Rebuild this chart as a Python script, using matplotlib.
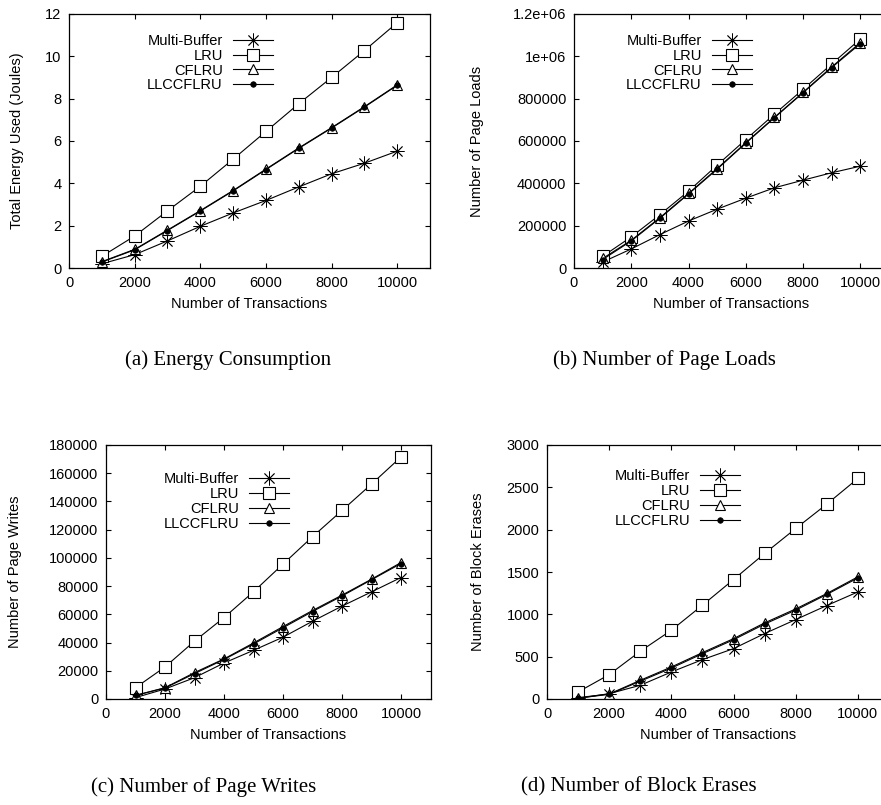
import numpy as np
import matplotlib
matplotlib.use("Agg")
import matplotlib.pyplot as plt

plt.rcParams['font.family'] = ['Liberation Sans', 'DejaVu Sans']
plt.rcParams['font.size'] = 10.5

# x values shared by all four panels
transactions = [1000, 2000, 3000, 4000, 5000, 6000, 7000, 8000, 9000, 10000]
series_names = ['Multi-Buffer', 'LRU', 'CFLRU', 'LLCCFLRU']

# (a) energy in joules
energy_multibuffer = [0.2, 0.63, 1.28, 1.97, 2.6, 3.19, 3.83, 4.45, 4.95, 5.52]
energy_lru = [0.55, 1.51, 2.7, 3.86, 5.14, 6.45, 7.76, 9.0, 10.27, 11.59]
energy_cflru = [0.3, 0.88, 1.79, 2.71, 3.66, 4.67, 5.67, 6.63, 7.62, 8.65]
energy_llccflru = [0.28, 0.86, 1.77, 2.69, 3.64, 4.65, 5.65, 6.61, 7.6, 8.63]

# (b) page loads
loads_multibuffer = [28000, 90000, 158000, 222000, 278000, 330000, 379000, 415000, 450000, 481000]
loads_lru = [55000, 147000, 252000, 363000, 486000, 607000, 727000, 844000, 964000, 1082000]
loads_cflru = [45000, 131000, 238000, 352000, 470000, 592000, 712000, 830000, 950000, 1065000]
loads_llccflru = [40000, 128000, 235000, 350000, 467000, 590000, 710000, 828000, 947000, 1060000]

# (c) page writes
writes_multibuffer = [1000, 7100, 15100, 25500, 34500, 43800, 55100, 65800, 75900, 86100]
writes_lru = [8000, 22700, 41000, 57700, 76000, 95600, 115000, 133600, 152300, 171500]
writes_cflru = [2600, 8000, 18700, 28400, 39700, 51300, 62700, 73600, 84900, 96700]
writes_llccflru = [2500, 7800, 18000, 28000, 39000, 50500, 62000, 73000, 84500, 96000]

# (d) block erases
erases_multibuffer = [8, 63, 162, 319, 465, 595, 773, 938, 1104, 1265]
erases_lru = [83, 288, 564, 812, 1108, 1411, 1719, 2014, 2302, 2605]
erases_cflru = [16, 59, 221, 378, 548, 713, 899, 1064, 1246, 1443]
erases_llccflru = [10, 55, 210, 365, 535, 700, 885, 1050, 1235, 1430]

x_ticks = [0, 2000, 4000, 6000, 8000, 10000]
loads_tick_labels = ['0', '200000', '400000', '600000', '800000', '1e+06', '1.2e+06']

panels = [
    dict(data=[energy_multibuffer, energy_lru, energy_cflru, energy_llccflru],
         ylabel='Total Energy Used (Joules)', caption='(a) Energy Consumption',
         yticks=np.arange(0, 13, 2), yticklabels=None, ylim=12,
         rect=[69, 14, 430, 268], ylabel_x=-0.144, leg_y=0.922),
    dict(data=[loads_multibuffer, loads_lru, loads_cflru, loads_llccflru],
         ylabel='Number of Page Loads', caption='(b) Number of Page Loads',
         yticks=np.arange(0, 1.2e6 + 1, 2e5), yticklabels=loads_tick_labels, ylim=1.2e6,
         rect=[574, 14, 889, 268], ylabel_x=-0.308, leg_y=0.922),
    dict(data=[writes_multibuffer, writes_lru, writes_cflru, writes_llccflru],
         ylabel='Number of Page Writes', caption='(c) Number of Page Writes',
         yticks=np.arange(0, 180001, 20000), yticklabels=None, ylim=180000,
         rect=[106, 445, 430.5, 699], ylabel_x=-0.28, leg_y=0.893),
    dict(data=[erases_multibuffer, erases_lru, erases_cflru, erases_llccflru],
         ylabel='Number of Block Erases', caption='(d) Number of Block Erases',
         yticks=np.arange(0, 3001, 500), yticklabels=None, ylim=3000,
         rect=[547, 445, 889, 699], ylabel_x=-0.202, leg_y=0.905),
]

styles = [
    dict(marker=(8, 2, 0), markersize=10, markerfacecolor='none', markeredgewidth=0.6),
    dict(marker='s', markersize=8, markerfacecolor='white', markeredgewidth=0.8),
    dict(marker='^', markersize=7.5, markerfacecolor='white', markeredgewidth=0.8),
    dict(marker='o', markersize=4, markerfacecolor='black', markeredgewidth=0.5),
]

W, H = 881, 805
fig = plt.figure(figsize=(W / 100, H / 100), dpi=100)

for p in panels:
    l, t, r, b = p['rect']
    ax = fig.add_axes([l / W, 1 - b / H, (r - l) / W, (b - t) / H])
    for name, vals, st in zip(series_names, p['data'], styles):
        ax.plot(transactions, vals, color='black', linewidth=0.8, label=name,
                markeredgecolor='black', **st)
    ax.set_xlim(0, 11000)
    ax.set_ylim(0, p['ylim'])
    ax.set_xticks(x_ticks)
    ax.set_yticks(p['yticks'])
    if p['yticklabels'] is not None:
        ax.set_yticklabels(p['yticklabels'])
    else:
        ax.set_yticklabels([f"{v:g}" for v in p['yticks']])
    ax.tick_params(direction='in', top=True, right=True, length=3.5, width=0.8, pad=5.5)
    for s in ax.spines.values():
        s.set_linewidth(0.9)
    ax.set_xlabel('Number of Transactions')
    ax.xaxis.set_label_coords(0.5, -0.115)
    ax.set_ylabel(p['ylabel'], va='center')
    ax.yaxis.set_label_coords(p['ylabel_x'], 0.5)
    ax.legend(loc='upper right', bbox_to_anchor=(0.565, p['leg_y']), frameon=False,
              markerfirst=False, numpoints=1, handlelength=2.75, handletextpad=0.7,
              labelspacing=0.06, borderpad=0, borderaxespad=0, fontsize=10.5)

# captions under each panel
caption_pos = [(228, 360), (664, 360), (204, 787), (639, 787)]
for p, (cx, cy) in zip(panels, caption_pos):
    fig.text(cx / W, 1 - cy / H, p['caption'], ha='center', va='center',
             family=['Liberation Serif', 'DejaVu Serif'], fontsize=15)

fig.savefig('out.png', dpi=100)
